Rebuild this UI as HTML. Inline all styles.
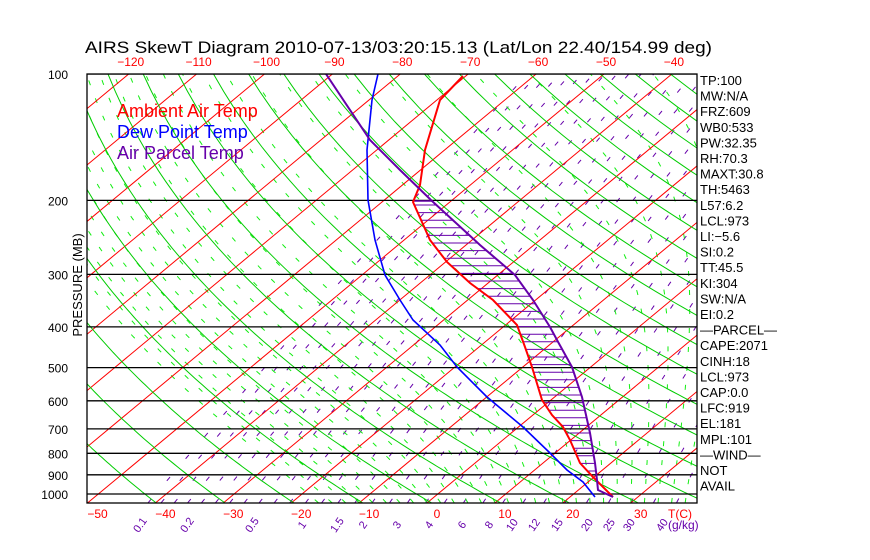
<!DOCTYPE html>
<html><head><meta charset="utf-8"><style>
html,body{margin:0;padding:0;background:#fff;width:870px;height:560px;overflow:hidden}
svg{display:block;font-family:"Liberation Sans",sans-serif}
</style></head><body>
<svg id="s" width="870" height="560" xmlns="http://www.w3.org/2000/svg">
<defs><clipPath id="c"><rect x="87" y="74" width="610" height="429"/></clipPath></defs>
<g id="g" clip-path="url(#c)"></g>
<g id="o"></g>
<text x="85" y="53" font-size="17" textLength="627" lengthAdjust="spacingAndGlyphs">AIRS SkewT Diagram 2010-07-13/03:20:15.13 (Lat/Lon 22.40/154.99 deg)</text>
<text x="117" y="117" font-size="18" fill="#f00">Ambient Air Temp</text>
<text x="117" y="138" font-size="18" fill="#00f">Dew Point Temp</text>
<text x="117" y="159" font-size="18" fill="#60a">Air Parcel Temp</text>
<text transform="translate(82,285) rotate(-90)" font-size="13" text-anchor="middle">PRESSURE (MB)</text>
</svg>
<script>
const NS="http://www.w3.org/2000/svg",g=document.getElementById('g'),o=document.getElementById('o');
function Y(p){return 74+182.4*Math.log(p/100);}
function X(T,p){return 427+6.79*T+(503-Y(p))*1.204;}
function el(par,t,a,txt){const e=document.createElementNS(NS,t);for(const k in a)e.setAttribute(k,a[k]);if(txt!==undefined)e.textContent=txt;par.appendChild(e);return e;}
function pl(pts,st,w,da){el(g,'polyline',{points:pts.map(q=>q[0].toFixed(1)+','+q[1].toFixed(1)).join(' '),fill:'none',stroke:st,'stroke-width':w||1,'stroke-dasharray':da||'none'});}
function es(T){return 6.112*Math.exp(17.67*T/(T+243.5));}
// mixing ratio (dense)
for(let w=0.1;w<=80;w*=1.22){let pts=[];for(let p=1050;p>=100;p-=25){const e=w*p/(622+w),l=Math.log(e/6.112),Td=243.5*l/(17.67-l);pts.push([X(Td,p),Y(p)]);}pl(pts,'#60a',1,'5,24');}
// moist adiabats
for(let T0=-16;T0<=46;T0+=2){let T=T0+273.15,pts=[];for(let p=1050;p>=100;p-=5){const e=es(T-273.15),rs=0.622*e/(p-e);pts.push([X(T-273.15,p),Y(p)]);const d=(1/p)*(287*T+2.5e6*rs)/(1004+2.5e6*2.5e6*rs*0.622/(287*T*T));T-=5*d;}pl(pts,'#1e1',1,'5,14');}
// isotherms
for(let T=-160;T<=60;T+=10){pl([[X(T,1050),Y(1050)],[X(T,100),Y(100)]],'#f00',1);}
// dry adiabats
for(let th=200;th<=520;th+=10){let pts=[];for(let p=1050;p>=100;p-=10){const T=th*Math.pow(p/1000,0.286)-273.15;pts.push([X(T,p),Y(p)]);}pl(pts,'#0c0',1);}
const ws=[0.1,0.2,0.5,1,1.5,2,3,4,6,8,10,12,15,20,25,30,40];
// pressure lines
[100,200,300,400,500,600,700,800,900,1000].forEach(p=>{pl([[87,Y(p)],[697,Y(p)]],'#000',1.3);el(o,'text',{x:68,y:Y(p)+5,'font-size':12,'text-anchor':'end'},String(p));});
el(o,'rect',{x:87,y:74,width:610,height:429,fill:'none',stroke:'#000','stroke-width':1.3});
// soundings
const red=[[463,76],[440,100],[425,150],[420,185],[413,202],[430,240],[447,262],[470,283],[493,300],[517,325],[525,347],[532,367],[542,400],[552,415],[563,427],[570,440],[580,463],[593,477],[613,497]];
const par=[[326,74],[370,140],[400,170],[432,201],[480,245],[515,275],[533,300],[550,327],[557,340],[572,367],[582,397],[590,433],[595,463],[597,480],[598,490],[613,497]];
const dew=[[378,74],[372,100],[367,150],[368,200],[375,240],[385,275],[400,300],[413,320],[440,345],[457,367],[487,397],[523,427],[550,453],[567,470],[583,482],[595,497]];
function ix(poly,y){for(let i=0;i<poly.length-1;i++){const a=poly[i],b=poly[i+1];if((y>=a[1]&&y<=b[1])){const t=(y-a[1])/(b[1]-a[1]||1);return a[0]+t*(b[0]-a[0]);}}return null;}
for(let y=205;y<=478;y+=7.6){const a=ix(red,y),b=ix(par,y);if(a!=null&&b!=null)pl([[a,y],[b,y]],'#60a',1);}
pl([[413,201],[432,201]],'#60a',1.5);
pl(red,'#f00',2);pl(dew,'#00f',1.6);pl(par,'#60a',2);
// top/bottom temp labels
for(let T=-120;T<=-40;T+=10){el(o,'text',{x:X(T,100)+2,y:66,'font-size':12,fill:'#f00','text-anchor':'middle'},'\u2212'+(-T));}
for(let T=-50;T<=30;T+=10){el(o,'text',{x:427+6.79*T+10,y:518,'font-size':12,fill:'#f00','text-anchor':'middle'},(T<0?'\u2212'+(-T):String(T)));}
el(o,'text',{x:680,y:518,'font-size':12,fill:'#f00','text-anchor':'middle'},'T(C)');
const wx=[143,190,255,305,340,366,400,432,465,492,515,537,560,590,612,632,665];
ws.forEach((w,i)=>{el(o,'text',{transform:`translate(${wx[i]},527) rotate(-55)`,'font-size':11,fill:'#60a','text-anchor':'middle'},String(w));});
el(o,'text',{x:668,y:529,'font-size':12,fill:'#60a'},'(g/kg)');
const R=["TP:100","MW:N/A","FRZ:609","WB0:533","PW:32.35","RH:70.3","MAXT:30.8","TH:5463","L57:6.2","LCL:973","LI:\u22125.6","SI:0.2","TT:45.5","KI:304","SW:N/A","EI:0.2","\u2014PARCEL\u2014","CAPE:2071","CINH:18","LCL:973","CAP:0.0","LFC:919","EL:181","MPL:101","\u2014WIND\u2014","NOT","AVAIL"];
R.forEach((t,i)=>el(o,'text',{x:700,y:85+i*15.6,'font-size':13},t));
</script>
</body></html>
